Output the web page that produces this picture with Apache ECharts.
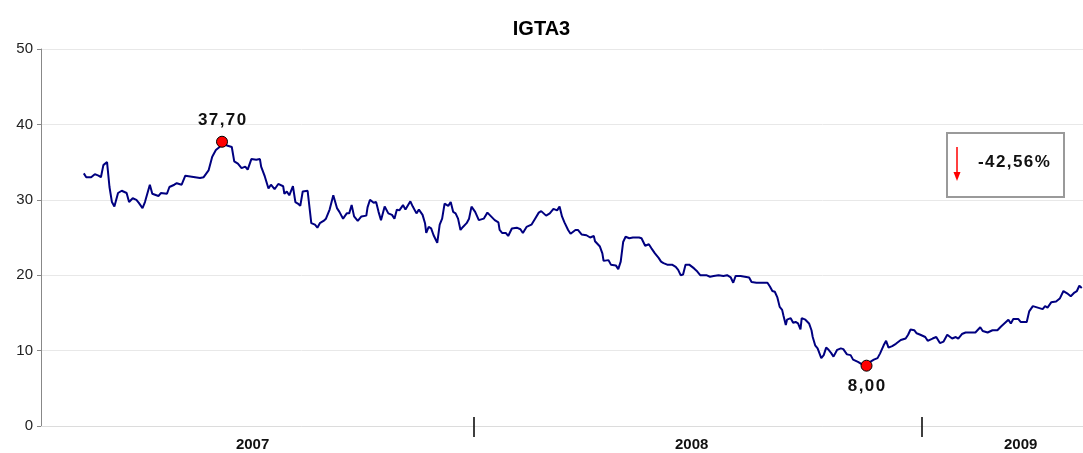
<!DOCTYPE html>
<html>
<head>
<meta charset="utf-8">
<script src="https://cdn.jsdelivr.net/npm/echarts@6/dist/echarts.min.js"></script>
<style>
  html, body { margin: 0; padding: 0; background: #fff; }
  #chart { width: 1083px; height: 453px; }
</style>
</head>
<body>
<div id="chart"></div>
<script>
// dias corridos desde 01/01/2007
const days = [
  46, 48, 52, 55, 58, 60, 62, 65, 67, 69, 71, 74, 77, 81, 83, 86, 89, 91, 94, 96,
  100, 102, 107, 109, 114, 116, 120, 122, 126, 129, 133, 137, 141, 144, 148, 151, 154, 157, 159, 163,
  167, 169, 172, 175, 178, 180, 183, 187, 190, 191, 194, 197, 199, 202, 205, 209, 210, 212, 214, 217,
  219, 221, 223, 225, 229, 232, 235, 237, 239, 242, 244, 247, 250, 253, 255, 258, 261, 263, 265, 267,
  270, 273, 277, 278, 280, 283, 285, 287, 289, 292, 295, 298, 300, 302, 304, 307, 309, 313, 315, 318,
  320, 323, 325, 326, 328, 330, 332, 335, 337, 339, 341, 344, 346, 348, 350, 352, 354, 356, 359, 361,
  363, 366, 369, 373, 376, 379, 382, 385, 386, 388, 391, 393, 396, 400, 403, 405, 408, 412, 415, 418,
  420, 422, 424, 427, 430, 433, 435, 437, 439, 442, 444, 448, 450, 453, 457, 460, 463, 464, 465, 468,
  470, 471, 475, 477, 481, 483, 485, 487, 489, 492, 495, 500, 502, 505, 508, 510, 513, 516, 518, 520,
  523, 527, 530, 532, 534, 536, 538, 541, 545, 547, 550, 555, 558, 561, 565, 569, 572, 575, 577, 579,
  583, 590, 592, 596, 601, 605, 607, 609, 611, 613, 615, 617, 618, 620, 621, 624, 626, 628, 630, 632,
  633, 636, 639, 641, 642, 644, 646, 649, 651, 653, 655, 657, 659, 662, 665, 667, 670, 673, 675, 679,
  682, 686, 689, 692, 695, 697, 700, 702, 704, 707, 710, 714, 718, 720, 722, 725, 727, 730, 731, 734,
  736, 740, 743, 746, 749, 752, 756, 759, 761, 764, 767, 771, 775, 779, 781, 785, 789, 793, 796, 800,
  802, 804, 806, 810, 812, 817, 819, 822, 826, 830, 832, 834, 837, 841, 844, 847, 850, 853, 856, 858,
  860, 862
];
const prices = [
  33.5, 33.0, 33.0, 33.4, 33.2, 33.0, 34.6, 35.0, 31.7, 29.7, 29.1, 30.9, 31.2, 30.9, 29.7, 30.2, 30.0, 29.6, 28.9, 29.7,
  32.0, 30.8, 30.5, 30.9, 30.8, 31.7, 32.0, 32.2, 32.0, 33.2, 33.1, 33.0, 32.9, 33.0, 33.9, 35.7, 36.6, 37.0, 37.7, 37.2,
  37.0, 35.1, 34.8, 34.2, 34.4, 34.0, 35.4, 35.3, 35.4, 34.4, 33.1, 31.5, 32.0, 31.4, 32.1, 31.8, 30.8, 31.1, 30.6, 31.8,
  29.7, 29.5, 29.2, 31.1, 31.2, 26.9, 26.7, 26.3, 26.9, 27.2, 27.5, 28.7, 30.6, 28.9, 28.4, 27.5, 28.2, 28.2, 29.3, 27.8,
  27.2, 27.8, 27.9, 29.0, 30.0, 29.6, 29.7, 28.4, 27.3, 29.1, 28.2, 28.0, 27.5, 28.7, 28.6, 29.3, 28.7, 29.8, 29.1, 28.2,
  28.7, 28.0, 26.9, 25.6, 26.4, 26.2, 25.3, 24.3, 26.7, 27.5, 29.5, 29.2, 29.7, 28.4, 28.2, 27.5, 26.0, 26.4, 26.9, 27.5,
  29.1, 28.4, 27.3, 27.5, 28.3, 27.8, 27.3, 27.0, 26.0, 25.6, 25.6, 25.2, 26.2, 26.3, 26.1, 25.6, 26.4, 26.7, 27.5, 28.3,
  28.5, 28.2, 27.9, 28.2, 28.8, 28.6, 29.1, 27.8, 27.0, 26.0, 25.5, 26.0, 26.0, 25.4, 25.3, 25.0, 25.2, 24.5, 24.7, 23.8,
  22.9, 21.9, 22.0, 21.4, 21.3, 20.8, 21.8, 24.4, 25.1, 24.9, 25.0, 25.0, 24.9, 23.9, 24.1, 23.6, 22.9, 22.3, 21.8, 21.6,
  21.4, 21.4, 21.1, 20.7, 20.0, 20.1, 21.4, 21.4, 20.9, 20.6, 20.0, 20.0, 19.8, 19.9, 20.0, 19.9, 20.0, 19.7, 19.0, 19.9,
  19.9, 19.7, 19.1, 19.0, 19.0, 19.0, 18.5, 17.9, 17.8, 17.1, 15.8, 15.4, 14.7, 13.4, 14.1, 14.3, 13.7, 13.8, 13.6, 12.8,
  14.3, 14.1, 13.6, 12.7, 11.8, 10.7, 10.3, 9.0, 9.4, 10.4, 10.1, 9.7, 9.2, 10.1, 10.3, 10.2, 9.5, 9.4, 8.8, 8.5,
  8.2, 8.0, 8.5, 8.8, 9.0, 9.6, 10.7, 11.3, 10.4, 10.6, 10.9, 11.4, 11.6, 12.1, 12.8, 12.7, 12.3, 12.1, 12.2, 11.8,
  11.3, 11.6, 11.8, 11.0, 11.2, 12.1, 11.6, 11.8, 11.6, 12.2, 12.4, 12.4, 12.4, 13.1, 12.6, 12.4, 12.7, 12.7, 13.2, 13.8,
  14.1, 13.6, 14.2, 14.2, 13.8, 13.8, 15.2, 15.9, 15.7, 15.5, 15.9, 15.7, 16.4, 16.5, 16.9, 17.9, 17.6, 17.2, 17.7, 17.9,
  18.6, 18.3
];

const yearStarts = [365, 731];          // separadores de ano
const yearLabelPos = [184, 543, 812];
const yearLabels = ['2007', '2008', '2009'];
const variacao = '-42,56%';

const font = 'Liberation Sans, Arial, sans-serif';
// texto espaçado como no original
const spaced = s => s.split('').join('\u200A');
const fmt = v => spaced(v.toFixed(2).replace('.', ','));

const myChart = echarts.init(document.getElementById('chart'));

const option = {
  animation: false,
  title: {
    text: 'IGTA3',
    left: 'center',
    top: 14,
    textStyle: { fontFamily: font, fontSize: 20, fontWeight: 'bold', color: '#000' }
  },
  grid: { left: 41, right: 0, top: 49, bottom: 27 },
  xAxis: [
    {
      type: 'value',
      position: 'bottom',
      min: 11,
      max: 863,
      splitLine: { show: false },
      axisLine: { lineStyle: { color: '#dcdcdc', width: 1 } },
      axisTick: { show: true, customValues: yearStarts, length: 11, lineStyle: { color: '#000', width: 1.5 } },
      axisLabel: {
        customValues: yearLabelPos,
        formatter: v => yearLabels[yearLabelPos.indexOf(v)],
        margin: 11,
        fontFamily: font,
        fontSize: 15,
        fontWeight: 'bold',
        color: '#111'
      }
    },
    {
      type: 'value',
      position: 'bottom',
      min: 11,
      max: 863,
      splitLine: { show: false },
      axisLine: { show: false },
      axisLabel: { show: false },
      axisTick: { show: true, inside: true, customValues: yearStarts, length: 9, lineStyle: { color: '#000', width: 1.5 } }
    }
  ],
  yAxis: {
    type: 'value',
    min: 0,
    max: 50,
    interval: 10,
    axisLine: { show: true, lineStyle: { color: '#888' } },
    axisTick: { show: true, length: 4, lineStyle: { color: '#888' } },
    splitLine: { lineStyle: { color: '#e8e8e8' } },
    axisLabel: { fontFamily: font, fontSize: 15, color: '#222', margin: 8 }
  },
  series: [
    {
      type: 'line',
      data: days.map((d, i) => [d, prices[i]]),
      showSymbol: false,
      lineStyle: { color: '#000080', width: 2 },
      itemStyle: { color: '#000080' },
      markPoint: {
        symbol: 'circle',
        symbolSize: 11,
        itemStyle: { color: '#ff0000', borderColor: '#000', borderWidth: 1 },
        label: {
          fontFamily: font,
          fontSize: 17,
          fontWeight: 'bold',
          color: '#111',
          formatter: p => fmt(p.value)
        },
        data: [
          { type: 'max', name: 'max', label: { position: 'top', distance: 7 } },
          { type: 'min', name: 'min', label: { position: 'bottom', distance: 6 } }
        ]
      }
    }
  ],
  graphic: [
    {
      type: 'rect',
      left: 946,
      top: 132,
      shape: { width: 117, height: 64 },
      style: { fill: '#fff', stroke: '#9a9a9a', lineWidth: 2 }
    },
    {
      type: 'line',
      shape: { x1: 957, y1: 147, x2: 957, y2: 173 },
      style: { stroke: '#ff0000', lineWidth: 1.5 }
    },
    {
      type: 'polygon',
      shape: { points: [[953.5, 172], [960.5, 172], [957, 181]] },
      style: { fill: '#ff0000' }
    },
    {
      type: 'text',
      left: 978,
      top: 154,
      style: { text: spaced(variacao), fontFamily: font, fontSize: 17, fontWeight: 'bold', fill: '#111' }
    }
  ]
};

myChart.setOption(option);
window.onresize = myChart.resize;
</script>
</body>
</html>
